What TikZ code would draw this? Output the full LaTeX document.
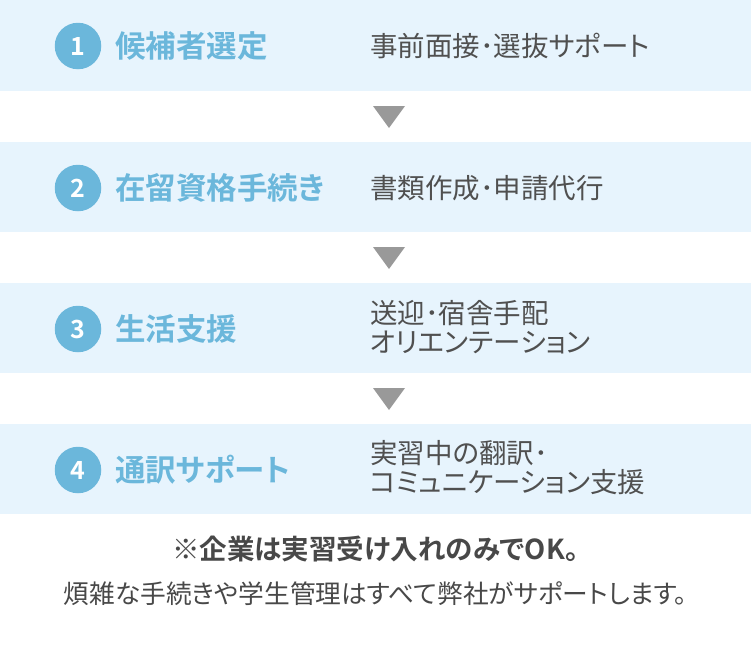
\documentclass[tikz,border=0pt]{standalone}
\usepackage{fontspec}
\setmainfont{Noto Sans CJK JP}[RawFeature=+palt, BoldFont={Noto Sans CJK JP Bold}]
\newfontfamily\jpbold{Noto Sans CJK JP Bold}[RawFeature=+palt]
\definecolor{bandbg}{RGB}{231,244,253}
\definecolor{stepblue}{RGB}{107,183,219}
\definecolor{desctext}{RGB}{80,80,80}
\definecolor{arrowgray}{RGB}{153,153,153}
\definecolor{notetext}{RGB}{72,72,72}
\tikzset{
  band/.style={fill=bandbg, draw=none},
  numcircle/.style={circle, fill=stepblue, minimum size=46.5pt, inner sep=0pt, text=white, font=\jpbold\fontsize{25}{25}\selectfont},
  steptitle/.style={anchor=west, inner sep=0pt, text=stepblue, font=\jpbold\fontsize{30.5}{34}\selectfont},
  desc/.style={anchor=west, inner sep=0pt, text=desctext, align=left, font=\fontsize{27.5}{29}\selectfont},
  downtri/.style={fill=arrowgray, draw=none},
  noteone/.style={inner sep=0pt, text=notetext, font=\jpbold\fontsize{27.5}{30}\selectfont},
  notetwo/.style={inner sep=0pt, text=notetext, font=\fontsize{25.7}{28}\selectfont}
}
\begin{document}
\begin{tikzpicture}[x=1pt, y=-1pt]
\useasboundingbox (0,0) rectangle (751,645);
\fill[white] (0,0) rectangle (751,645);
% bands
\path[band] (0,0) rectangle (751,91);
\path[band] (0,142) rectangle (751,232);
\path[band] (0,283) rectangle (751,373);
\path[band] (0,424) rectangle (751,514);
% arrows
\path[downtri] (373,106) -- (405,106) -- (389,128) -- cycle;
\path[downtri] (373,247) -- (405,247) -- (389,269) -- cycle;
\path[downtri] (373,388) -- (405,388) -- (389,410) -- cycle;
% step 1
\node[numcircle] (c1) at (78,46) {1};
\node[steptitle] (t1) at (115,46) {候補者選定};
\node[desc] (d1) at (370,46) {事前面接･選抜サポート};
% step 2
\node[numcircle] (c2) at (78,188) {2};
\node[steptitle] (t2) at (115,188) {在留資格手続き};
\node[desc] (d2) at (370,188) {書類作成･申請代行};
% step 3
\node[numcircle] (c3) at (78,329) {3};
\node[steptitle] (t3) at (115,329) {生活支援};
\node[desc] (d3) at (370,327) {送迎･宿舎手配\\オリエンテーション};
% step 4
\node[numcircle] (c4) at (78,470) {4};
\node[steptitle] (t4) at (115,470) {通訳サポート};
\node[desc] (d4) at (370,468) {実習中の翻訳･\\コミュニケーション支援};
% note
\node[noteone] (n1) at (375.5,549) {※企業は実習受け入れのみでOK。};
\node[notetwo] (n2) at (375.5,594) {煩雑な手続きや学生管理はすべて弊社がサポートします。};
\end{tikzpicture}
\end{document}
